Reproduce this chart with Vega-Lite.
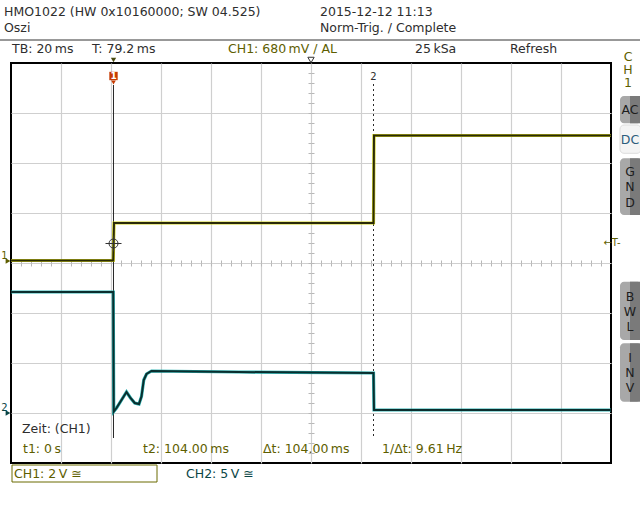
{
  "$schema": "https://vega.github.io/schema/vega-lite/v6.json",
  "width": 600,
  "height": 400,
  "autosize": "none",
  "padding": {"left": 11, "top": 63, "right": 29, "bottom": 57},
  "background": "#ffffff",
  "config": {
    "view": {"stroke": "#000000", "strokeWidth": 2},
    "text": {"font": "DejaVu Sans"}
  },
  "resolve": {"scale": {"y": "independent"}, "axis": {"x": "independent", "y": "independent"}},
  "datasets": {
    "one": [{}],
    "ch1": [
      {"t": -41.0, "v": 0.0}, {"t": -0.1, "v": 0.0}, {"t": 0.2, "v": 1.5},
      {"t": 104.0, "v": 1.5}, {"t": 104.2, "v": 5.0}, {"t": 199.0, "v": 5.0}
    ],
    "ch2": [
      {"t": -41.0, "v": 12.1}, {"t": -0.1, "v": 12.1}, {"t": 0.1, "v": 0.15},
      {"t": 1.2, "v": 0.5}, {"t": 5.2, "v": 2.1}, {"t": 6.8, "v": 1.5},
      {"t": 8.5, "v": 1.0}, {"t": 10.2, "v": 0.9}, {"t": 11.2, "v": 1.66},
      {"t": 12.1, "v": 3.3}, {"t": 13.2, "v": 3.9}, {"t": 15.2, "v": 4.2},
      {"t": 50.0, "v": 4.1}, {"t": 104.0, "v": 4.0}, {"t": 104.2, "v": 0.3},
      {"t": 199.0, "v": 0.3}
    ],
    "labels": [
      {"t": -43.8, "d": 5.02, "text": "HMO1022 (HW 0x10160000; SW 04.525)", "kind": "ui"},
      {"t": -43.8, "d": 4.7, "text": "Oszi", "kind": "ui"},
      {"t": 82.6, "d": 5.02, "text": "2015-12-12 11:13", "kind": "ui"},
      {"t": 82.6, "d": 4.7, "text": "Norm-Trig. / Complete", "kind": "ui"},
      {"t": -40.6, "d": 4.28, "text": "TB: 20\u2009ms", "kind": "ui"},
      {"t": -8.6, "d": 4.28, "text": "T: 79.2\u2009ms", "kind": "ui"},
      {"t": 45.8, "d": 4.28, "text": "CH1: 680\u2009mV \u2215 AL", "kind": "ch1"},
      {"t": 120.6, "d": 4.28, "text": "25\u2009kSa", "kind": "ui"},
      {"t": 158.6, "d": 4.28, "text": "Refresh", "kind": "ui"},
      {"t": -36.6, "d": -3.32, "text": "Zeit: (CH1)", "kind": "ui"},
      {"t": -36.2, "d": -3.72, "text": "t1: 0\u2009s", "kind": "ch1"},
      {"t": 11.8, "d": -3.72, "text": "t2: 104.00\u2009ms", "kind": "ch1"},
      {"t": 59.8, "d": -3.72, "text": "\u0394t: 104.00\u2009ms", "kind": "ch1"},
      {"t": 107.4, "d": -3.72, "text": "1/\u0394t: 9.61\u2009Hz", "kind": "ch1"},
      {"t": -39.8, "d": -4.22, "text": "CH1: 2\u2009V \u2245", "kind": "ch1"},
      {"t": 29.0, "d": -4.22, "text": "CH2: 5\u2009V \u2245", "kind": "ch2"}
    ],
    "vlabels": [
      {"t": 205.8, "d": 4.13, "text": "C", "kind": "ch1"},
      {"t": 205.8, "d": 3.87, "text": "H", "kind": "ch1"},
      {"t": 205.8, "d": 3.61, "text": "1", "kind": "ch1"},
      {"t": 206.6, "d": 3.06, "text": "AC", "kind": "btn"},
      {"t": 206.6, "d": 2.46, "text": "DC", "kind": "dc"},
      {"t": 206.6, "d": 1.83, "text": "G", "kind": "btn"},
      {"t": 206.6, "d": 1.53, "text": "N", "kind": "btn"},
      {"t": 206.6, "d": 1.21, "text": "D", "kind": "btn"},
      {"t": 206.6, "d": -0.67, "text": "B", "kind": "btn"},
      {"t": 206.6, "d": -0.97, "text": "W", "kind": "btn"},
      {"t": 206.6, "d": -1.27, "text": "L", "kind": "btn"},
      {"t": 206.6, "d": -1.9, "text": "I", "kind": "btn"},
      {"t": 206.6, "d": -2.2, "text": "N", "kind": "btn"},
      {"t": 206.6, "d": -2.5, "text": "V", "kind": "btn"}
    ],
    "small": [
      {"t": -43.6, "d": 0.15, "text": "1", "kind": "ch1"},
      {"t": -43.6, "d": -2.89, "text": "2", "kind": "ch2"},
      {"t": 104.0, "d": 3.72, "text": "2", "kind": "ui"},
      {"t": 199.4, "d": 0.41, "text": "\u2190T-", "kind": "ch1"}
    ],
    "buttons": [
      {"name": "AC", "top": 3.34, "bot": 2.794},
      {"name": "GND", "top": 2.094, "bot": 0.96},
      {"name": "BWL", "top": -0.374, "bot": -1.54},
      {"name": "INV", "top": -1.606, "bot": -2.774}
    ]
  },
  "layer": [
    {
      "data": {"name": "one"},
      "mark": {"type": "point", "opacity": 0},
      "encoding": {
        "x": {"datum": 0, "type": "quantitative", "scale": {"domain": [-41, 199], "nice": false, "zero": false},
          "axis": {"values": [-21, -1, 19, 39, 59, 79, 99, 119, 139, 159, 179], "grid": true, "gridColor": "#cfcfcf", "gridWidth": 1.2, "ticks": false, "labels": false, "domain": false, "title": null}},
        "y": {"datum": 0, "type": "quantitative", "scale": {"domain": [-4, 4], "nice": false, "zero": false},
          "axis": {"values": [-3, -2, -1, 0, 1, 2, 3], "grid": true, "gridColor": "#cfcfcf", "gridWidth": 1.2, "ticks": false, "labels": false, "domain": false, "title": null}}
      }
    },
    {
      "data": {"name": "one"},
      "mark": {"type": "point", "opacity": 0},
      "encoding": {
        "x": {"datum": 0, "type": "quantitative", "scale": {"domain": [-41, 199], "nice": false, "zero": false},
          "axis": {"orient": "bottom", "offset": -200, "values": [-37,-33,-29,-25,-21,-17,-13,-9,-5,-1,3,7,11,15,19,23,27,31,35,39,43,47,51,55,59,63,67,71,75,79,83,87,91,95,99,103,107,111,115,119,123,127,131,135,139,143,147,151,155,159,163,167,171,175,179,183,187,191,195], "grid": false, "ticks": true, "tickSize": 3, "tickWidth": 1, "tickColor": "#b8b8b8", "labels": false, "domain": false, "title": null}},
        "y": {"datum": 0, "type": "quantitative", "scale": {"domain": [-4, 4], "nice": false, "zero": false},
          "axis": {"orient": "left", "offset": -300, "values": [-3.8,-3.6,-3.4,-3.2,-3,-2.8,-2.6,-2.4,-2.2,-2,-1.8,-1.6,-1.4,-1.2,-1,-0.8,-0.6,-0.4,-0.2,0,0.2,0.4,0.6,0.8,1,1.2,1.4,1.6,1.8,2,2.2,2.4,2.6,2.8,3,3.2,3.4,3.6,3.8], "grid": false, "ticks": true, "tickSize": 3, "tickWidth": 1, "tickColor": "#b8b8b8", "labels": false, "domain": false, "title": null}}
      }
    },
    {
      "data": {"name": "one"},
      "mark": {"type": "point", "opacity": 0},
      "encoding": {
        "x": {"datum": 0, "type": "quantitative", "scale": {"domain": [-41, 199], "nice": false, "zero": false},
          "axis": {"orient": "top", "offset": -200, "values": [-37,-33,-29,-25,-21,-17,-13,-9,-5,-1,3,7,11,15,19,23,27,31,35,39,43,47,51,55,59,63,67,71,75,79,83,87,91,95,99,103,107,111,115,119,123,127,131,135,139,143,147,151,155,159,163,167,171,175,179,183,187,191,195], "grid": false, "ticks": true, "tickSize": 3, "tickWidth": 1, "tickColor": "#b8b8b8", "labels": false, "domain": false, "title": null}},
        "y": {"datum": 0, "type": "quantitative", "scale": {"domain": [-4, 4], "nice": false, "zero": false},
          "axis": {"orient": "right", "offset": -300, "values": [-3.8,-3.6,-3.4,-3.2,-3,-2.8,-2.6,-2.4,-2.2,-2,-1.8,-1.6,-1.4,-1.2,-1,-0.8,-0.6,-0.4,-0.2,0,0.2,0.4,0.6,0.8,1,1.2,1.4,1.6,1.8,2,2.2,2.4,2.6,2.8,3,3.2,3.4,3.6,3.8], "grid": false, "ticks": true, "tickSize": 3, "tickWidth": 1, "tickColor": "#b8b8b8", "labels": false, "domain": false, "title": null}}
      }
    },
    {
      "data": {"name": "one"},
      "mark": {"type": "rule", "color": "#2a2a2a", "strokeWidth": 1},
      "encoding": {
        "x": {"datum": 0, "type": "quantitative", "scale": {"domain": [-41, 199], "nice": false, "zero": false}, "axis": null},
        "y": {"datum": 3.56, "type": "quantitative", "scale": {"domain": [-4, 4], "nice": false, "zero": false}, "axis": null},
        "y2": {"datum": -3.5}
      }
    },
    {
      "data": {"name": "one"},
      "mark": {"type": "rule", "color": "#2a2a2a", "strokeWidth": 1, "strokeDash": [2, 3]},
      "encoding": {
        "x": {"datum": 104, "type": "quantitative", "scale": {"domain": [-41, 199], "nice": false, "zero": false}, "axis": null},
        "y": {"datum": 3.58, "type": "quantitative", "scale": {"domain": [-4, 4], "nice": false, "zero": false}, "axis": null},
        "y2": {"datum": -3.5}
      }
    },
    {
      "data": {"name": "ch1"},
      "mark": {"type": "line", "color": "#c9c900", "strokeWidth": 3.2, "opacity": 0.9},
      "encoding": {
        "x": {"field": "t", "type": "quantitative", "scale": {"domain": [-41, 199], "nice": false, "zero": false}, "axis": null},
        "y": {"field": "v", "type": "quantitative", "scale": {"domain": [-8.1, 7.9], "nice": false, "zero": false}, "axis": null}
      }
    },
    {
      "data": {"name": "ch1"},
      "mark": {"type": "line", "color": "#2a2a08", "strokeWidth": 2},
      "encoding": {
        "x": {"field": "t", "type": "quantitative", "scale": {"domain": [-41, 199], "nice": false, "zero": false}, "axis": null},
        "y": {"field": "v", "type": "quantitative", "scale": {"domain": [-8.1, 7.9], "nice": false, "zero": false}, "axis": null}
      }
    },
    {
      "data": {"name": "ch2"},
      "mark": {"type": "line", "color": "#14a8a8", "strokeWidth": 3.2, "opacity": 0.9},
      "encoding": {
        "x": {"field": "t", "type": "quantitative", "scale": {"domain": [-41, 199], "nice": false, "zero": false}, "axis": null},
        "y": {"field": "v", "type": "quantitative", "scale": {"domain": [-5, 35], "nice": false, "zero": false}, "axis": null}
      }
    },
    {
      "data": {"name": "ch2"},
      "mark": {"type": "line", "color": "#0a2e2e", "strokeWidth": 2},
      "encoding": {
        "x": {"field": "t", "type": "quantitative", "scale": {"domain": [-41, 199], "nice": false, "zero": false}, "axis": null},
        "y": {"field": "v", "type": "quantitative", "scale": {"domain": [-5, 35], "nice": false, "zero": false}, "axis": null}
      }
    },
    {
      "data": {"name": "one"},
      "mark": {"type": "point", "shape": "circle", "size": 81, "filled": false, "color": "#333333", "strokeWidth": 1, "opacity": 1},
      "encoding": {
        "x": {"datum": 0, "type": "quantitative", "scale": {"domain": [-41, 199], "nice": false, "zero": false}, "axis": null},
        "y": {"datum": 0.68, "type": "quantitative", "scale": {"domain": [-8.1, 7.9], "nice": false, "zero": false}, "axis": null}
      }
    },
    {
      "data": {"name": "one"},
      "mark": {"type": "point", "shape": "M-1,0H1M0,-1V1", "size": 256, "filled": false, "color": "#333333", "strokeWidth": 1, "opacity": 1},
      "encoding": {
        "x": {"datum": 0, "type": "quantitative", "scale": {"domain": [-41, 199], "nice": false, "zero": false}, "axis": null},
        "y": {"datum": 0.68, "type": "quantitative", "scale": {"domain": [-8.1, 7.9], "nice": false, "zero": false}, "axis": null}
      }
    },
    {
      "data": {"name": "one"},
      "mark": {"type": "rule", "color": "#333333", "strokeWidth": 1},
      "encoding": {
        "x": {"datum": -45.4, "type": "quantitative", "scale": {"domain": [-41, 199], "nice": false, "zero": false}, "axis": null},
        "x2": {"datum": 210.6},
        "y": {"datum": 4.46, "type": "quantitative", "scale": {"domain": [-4, 4], "nice": false, "zero": false}, "axis": null}
      }
    },
    {
      "data": {"name": "one"},
      "mark": {"type": "point", "shape": "square", "size": 70, "filled": true, "color": "#c63a00", "opacity": 1},
      "encoding": {
        "x": {"datum": 0, "type": "quantitative", "scale": {"domain": [-41, 199], "nice": false, "zero": false}, "axis": null},
        "y": {"datum": 3.74, "type": "quantitative", "scale": {"domain": [-4, 4], "nice": false, "zero": false}, "axis": null}
      }
    },
    {
      "data": {"name": "one"},
      "mark": {"type": "point", "shape": "triangle-down", "size": 22, "filled": true, "color": "#c63a00", "opacity": 1},
      "encoding": {
        "x": {"datum": 0, "type": "quantitative", "scale": {"domain": [-41, 199], "nice": false, "zero": false}, "axis": null},
        "y": {"datum": 3.61, "type": "quantitative", "scale": {"domain": [-4, 4], "nice": false, "zero": false}, "axis": null}
      }
    },
    {
      "data": {"name": "one"},
      "mark": {"type": "text", "text": "1", "color": "#ffffff", "fontSize": 9, "fontWeight": "bold", "align": "center", "baseline": "middle"},
      "encoding": {
        "x": {"datum": 0, "type": "quantitative", "scale": {"domain": [-41, 199], "nice": false, "zero": false}, "axis": null},
        "y": {"datum": 3.74, "type": "quantitative", "scale": {"domain": [-4, 4], "nice": false, "zero": false}, "axis": null}
      }
    },
    {
      "data": {"name": "one"},
      "mark": {"type": "point", "shape": "triangle-down", "size": 28, "filled": true, "color": "#4a4a10", "opacity": 1},
      "encoding": {
        "x": {"datum": 0, "type": "quantitative", "scale": {"domain": [-41, 199], "nice": false, "zero": false}, "axis": null},
        "y": {"datum": 4.06, "type": "quantitative", "scale": {"domain": [-4, 4], "nice": false, "zero": false}, "axis": null}
      }
    },
    {
      "data": {"name": "one"},
      "mark": {"type": "point", "shape": "triangle-down", "size": 40, "filled": false, "color": "#333333", "strokeWidth": 1, "opacity": 1},
      "encoding": {
        "x": {"datum": 79, "type": "quantitative", "scale": {"domain": [-41, 199], "nice": false, "zero": false}, "axis": null},
        "y": {"datum": 4.06, "type": "quantitative", "scale": {"domain": [-4, 4], "nice": false, "zero": false}, "axis": null}
      }
    },
    {
      "data": {"name": "one"},
      "mark": {"type": "point", "shape": "triangle-right", "size": 30, "filled": true, "color": "#5e5e00", "opacity": 1},
      "encoding": {
        "x": {"datum": -42.2, "type": "quantitative", "scale": {"domain": [-41, 199], "nice": false, "zero": false}, "axis": null},
        "y": {"datum": 0.04, "type": "quantitative", "scale": {"domain": [-4, 4], "nice": false, "zero": false}, "axis": null}
      }
    },
    {
      "data": {"name": "one"},
      "mark": {"type": "point", "shape": "triangle-right", "size": 30, "filled": true, "color": "#0b4646", "opacity": 1},
      "encoding": {
        "x": {"datum": -42.2, "type": "quantitative", "scale": {"domain": [-41, 199], "nice": false, "zero": false}, "axis": null},
        "y": {"datum": -3.0, "type": "quantitative", "scale": {"domain": [-4, 4], "nice": false, "zero": false}, "axis": null}
      }
    },
    {
      "data": {"name": "one"},
      "mark": {"type": "rect", "fill": "#ffffff", "fillOpacity": 0, "stroke": "#6b6b00", "strokeWidth": 1},
      "encoding": {
        "x": {"datum": -40.6, "type": "quantitative", "scale": {"domain": [-41, 199], "nice": false, "zero": false}, "axis": null},
        "x2": {"datum": 17.4},
        "y": {"datum": -4.04, "type": "quantitative", "scale": {"domain": [-4, 4], "nice": false, "zero": false}, "axis": null},
        "y2": {"datum": -4.38}
      }
    },
    {
      "data": {"name": "buttons"},
      "mark": {"type": "rect", "fill": "#a8a8a8", "cornerRadius": 4},
      "encoding": {
        "x": {"datum": 202.6, "type": "quantitative", "scale": {"domain": [-41, 199], "nice": false, "zero": false}, "axis": null},
        "x2": {"datum": 211.0},
        "y": {"field": "top", "type": "quantitative", "scale": {"domain": [-4, 4], "nice": false, "zero": false}, "axis": null},
        "y2": {"field": "bot"}
      }
    },
    {
      "data": {"name": "buttons"},
      "mark": {"type": "rect", "fill": "#7a7a7a"},
      "encoding": {
        "x": {"datum": 206.6, "type": "quantitative", "scale": {"domain": [-41, 199], "nice": false, "zero": false}, "axis": null},
        "x2": {"datum": 211.0},
        "y": {"field": "top", "type": "quantitative", "scale": {"domain": [-4, 4], "nice": false, "zero": false}, "axis": null},
        "y2": {"field": "bot"}
      }
    },
    {
      "data": {"name": "one"},
      "mark": {"type": "rect", "fill": "#f4f4f4", "stroke": "#dddddd", "strokeWidth": 1, "cornerRadius": 4},
      "encoding": {
        "x": {"datum": 202.6, "type": "quantitative", "scale": {"domain": [-41, 199], "nice": false, "zero": false}, "axis": null},
        "x2": {"datum": 211.0},
        "y": {"datum": 2.76, "type": "quantitative", "scale": {"domain": [-4, 4], "nice": false, "zero": false}, "axis": null},
        "y2": {"datum": 2.194}
      }
    },
    {
      "data": {"name": "labels"},
      "mark": {"type": "text", "align": "left", "baseline": "middle", "fontSize": 12.5},
      "encoding": {
        "x": {"field": "t", "type": "quantitative", "scale": {"domain": [-41, 199], "nice": false, "zero": false}, "axis": null},
        "y": {"field": "d", "type": "quantitative", "scale": {"domain": [-4, 4], "nice": false, "zero": false}, "axis": null},
        "text": {"field": "text"},
        "color": {"field": "kind", "type": "nominal", "scale": {"domain": ["ui", "ch1", "ch2", "dc", "btn"], "range": ["#2e2e2e", "#5e5e00", "#0b4646", "#2c5d7c", "#1e1e1e"]}, "legend": null}
      }
    },
    {
      "data": {"name": "vlabels"},
      "mark": {"type": "text", "align": "center", "baseline": "middle", "fontSize": 12.5},
      "encoding": {
        "x": {"field": "t", "type": "quantitative", "scale": {"domain": [-41, 199], "nice": false, "zero": false}, "axis": null},
        "y": {"field": "d", "type": "quantitative", "scale": {"domain": [-4, 4], "nice": false, "zero": false}, "axis": null},
        "text": {"field": "text"},
        "color": {"field": "kind", "type": "nominal", "scale": {"domain": ["ui", "ch1", "ch2", "dc", "btn"], "range": ["#2e2e2e", "#5e5e00", "#0b4646", "#2c5d7c", "#1e1e1e"]}, "legend": null}
      }
    },
    {
      "data": {"name": "small"},
      "mark": {"type": "text", "align": "center", "baseline": "middle", "fontSize": 10},
      "encoding": {
        "x": {"field": "t", "type": "quantitative", "scale": {"domain": [-41, 199], "nice": false, "zero": false}, "axis": null},
        "y": {"field": "d", "type": "quantitative", "scale": {"domain": [-4, 4], "nice": false, "zero": false}, "axis": null},
        "text": {"field": "text"},
        "color": {"field": "kind", "type": "nominal", "scale": {"domain": ["ui", "ch1", "ch2", "dc", "btn"], "range": ["#2e2e2e", "#5e5e00", "#0b4646", "#2c5d7c", "#1e1e1e"]}, "legend": null}
      }
    }
  ]
}
